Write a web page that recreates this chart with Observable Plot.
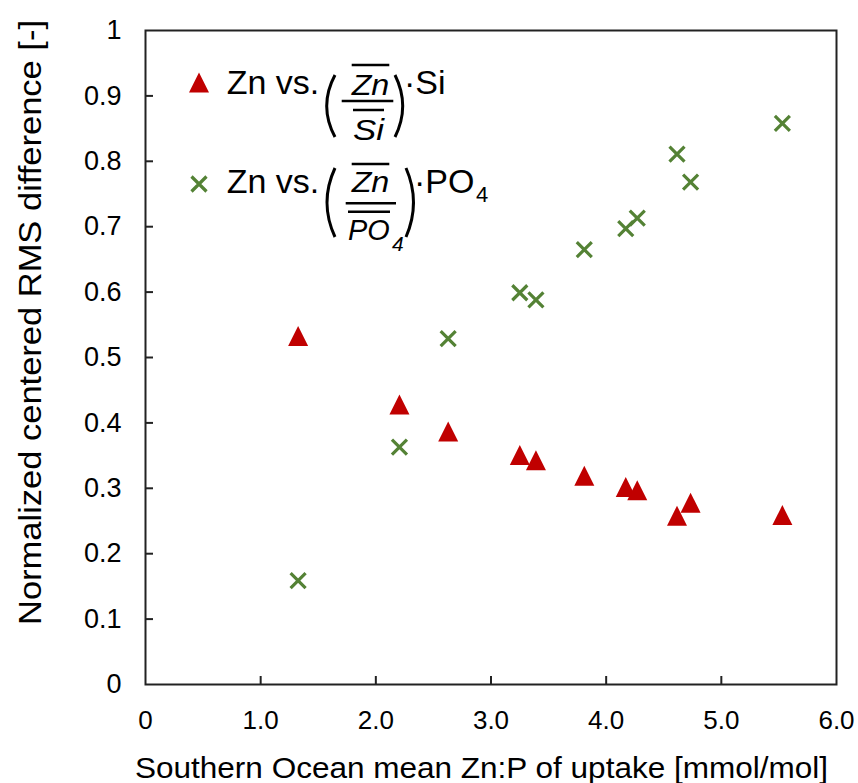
<!DOCTYPE html>
<html><head><meta charset="utf-8">
<script src="https://cdn.jsdelivr.net/npm/d3@7"></script>
<script src="https://cdn.jsdelivr.net/npm/@observablehq/plot@0.6"></script>
<style>
html,body{margin:0;padding:0;background:#fff;}
#chart{width:858px;height:783px;}
</style></head><body><div id="chart"></div>
<script>
// Data
const znP = [1.325, 2.205, 2.628, 3.25, 3.39, 3.81, 4.17, 4.27, 4.615, 4.733, 5.53];
const rmsSi = [0.533, 0.428, 0.387, 0.351, 0.343, 0.319, 0.302, 0.297, 0.258, 0.278, 0.259];
const rmsPO4 = [0.159, 0.363, 0.529, 0.599, 0.588, 0.665, 0.697, 0.713, 0.811, 0.768, 0.858];
const xTicks = [0, 1, 2, 3, 4, 5, 6];
const xTickLabels = ["0", "1.0", "2.0", "3.0", "4.0", "5.0", "6.0"];
const yTicks = [0, 0.1, 0.2, 0.3, 0.4, 0.5, 0.6, 0.7, 0.8, 0.9, 1];
const yTickLabels = ["0", "0.1", "0.2", "0.3", "0.4", "0.5", "0.6", "0.7", "0.8", "0.9", "1"];
const xTitle = "Southern Ocean mean Zn:P of uptake [mmol/mol]";
const yTitle = "Normalized centered RMS difference [-]";

const RED = "#C00000", GREEN = "#548235";
const FONT = "'Liberation Sans', Arial, sans-serif";

const siData = znP.map((x, i) => ({x, y: rmsSi[i]}));
const poData = znP.map((x, i) => ({x, y: rmsPO4[i]}));

const triSym = {draw(ctx, size) { const s = Math.sqrt(size / Math.PI); ctx.moveTo(0, -s); ctx.lineTo(s, s); ctx.lineTo(-s, s); ctx.closePath(); }};
const xSym = {draw(ctx, size) { const s = Math.sqrt(size / Math.PI); ctx.moveTo(-s, -s); ctx.lineTo(s, s); ctx.moveTo(s, -s); ctx.lineTo(-s, s); }};

const W = 858, H = 783, ML = 145, MR = 22, MT = 30, MB = 99;
const innerW = W - ML - MR, innerH = H - MT - MB;

const svg = Plot.plot({
  width: W, height: H,
  marginLeft: ML, marginRight: MR, marginTop: MT, marginBottom: MB,
  style: {fontFamily: FONT, fontSize: "26px", color: "#000", background: "#fff", overflow: "visible"},
  x: {domain: [0, 6]},
  y: {domain: [0, 1]},
  marks: [
    Plot.axisX(xTicks, {tickSize: 0, tickPadding: 26, tickFormat: (d) => xTickLabels[xTicks.indexOf(d)], label: null, fontSize: 26}),
    Plot.axisY(yTicks, {tickSize: 0, tickPadding: 24, tickFormat: (d) => yTickLabels[yTicks.indexOf(d)], label: null, fontSize: 27}),
    Plot.tickX(xTicks.slice(1, -1), {x: d => d, stroke: "#222", strokeWidth: 2, insetTop: innerH - 8}),
    Plot.tickY(yTicks.slice(1, -1), {y: d => d, stroke: "#222", strokeWidth: 2, insetRight: innerW - 8}),
    Plot.frame({stroke: "#222", strokeWidth: 2}),
    Plot.dot(siData, {x: "x", y: "y", symbol: triSym, r: 10, fill: RED, stroke: "none"}),
    Plot.dot(poData, {x: "x", y: "y", symbol: xSym, r: 7.5, fill: "none", stroke: GREEN, strokeWidth: 3.2})
  ]
});
document.getElementById("chart").appendChild(svg);

const s = d3.select(svg);
// Axis titles
s.append("text").attr("x", 481.5).attr("y", 778).attr("text-anchor", "middle")
  .attr("font-family", FONT).attr("font-size", 30).attr("fill", "#000")
  .attr("textLength", 693).attr("lengthAdjust", "spacingAndGlyphs").text(xTitle);
s.append("text").attr("transform", "translate(41,322.5) rotate(-90)").attr("text-anchor", "middle")
  .attr("font-family", FONT).attr("font-size", 31).attr("fill", "#000")
  .attr("textLength", 605).attr("lengthAdjust", "spacingAndGlyphs").text(yTitle);

// Legend
const lg = s.append("g").attr("font-family", FONT).attr("fill", "#000").attr("text-anchor", "start");
const tri = d3.path(); triSym.draw(tri, Math.PI * 100);
lg.append("path").attr("d", tri.toString()).attr("transform", "translate(199,82.5)").attr("fill", RED);
const xp = d3.path(); xSym.draw(xp, Math.PI * 7.5 * 7.5);
lg.append("path").attr("d", xp.toString()).attr("transform", "translate(199,184)").attr("fill", "none").attr("stroke", GREEN).attr("stroke-width", 3.2);

function paren(x0, xm, y0, y1) {
  const c = 2 * xm - x0;
  lg.append("path").attr("d", `M${x0},${y0}Q${c},${(y0 + y1) / 2} ${x0},${y1}`)
    .attr("fill", "none").attr("stroke", "#000").attr("stroke-width", 3);
}
function bar(x0, x1, y) {
  lg.append("line").attr("x1", x0).attr("x2", x1).attr("y1", y).attr("y2", y).attr("stroke", "#000").attr("stroke-width", 2.5);
}
function txt(x, y, str, size, opts = {}) {
  const t = lg.append("text").attr("x", x).attr("y", y).attr("font-size", size).attr("text-anchor", "start");
  if (opts.italic) t.attr("font-style", "italic");
  if (opts.len) t.attr("textLength", opts.len).attr("lengthAdjust", "spacingAndGlyphs");
  t.text(str);
  return t;
}
// Row 1: Zn vs. (Zn/Si)·Si
txt(226.7, 94.3, "Zn vs.", 34);
paren(335, 326.7, 75, 137);
bar(351.7, 389.3, 65);
txt(351.7, 95, "Zn", 30, {italic: true, len: 37.6});
bar(341.7, 393.3, 101);
bar(353, 384, 110);
txt(353, 139.5, "Si", 30, {italic: true, len: 31});
paren(395, 402.7, 75, 137);
txt(404, 94.3, "\u00B7Si", 34);
// Row 2: Zn vs. (Zn/PO4)·PO4
txt(226.7, 193.3, "Zn vs.", 34);
paren(335, 327, 168, 237);
bar(351.7, 389.3, 164);
txt(351.7, 192, "Zn", 30, {italic: true, len: 37.6});
bar(345.7, 396, 203.3);
bar(348, 390, 211.7);
txt(348, 239.5, "PO", 30, {italic: true, len: 41.7});
txt(392, 251, "4", 21, {italic: true});
paren(406, 413.5, 168, 237);
txt(414, 193.3, "\u00B7PO", 34);
txt(476, 202, "4", 22);
</script></body></html>
